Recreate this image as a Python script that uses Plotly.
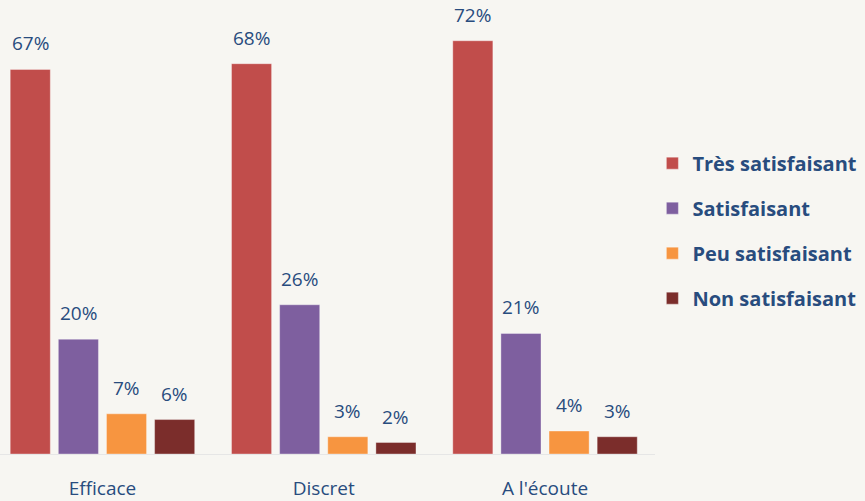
import plotly.graph_objects as go

categories = ["Efficace", "Discret", "A l'écoute"]
series_names = ["Très satisfaisant", "Satisfaisant", "Peu satisfaisant", "Non satisfaisant"]
tres_satisfaisant = [67, 68, 72]
satisfaisant = [20, 26, 21]
peu_satisfaisant = [7, 3, 4]
non_satisfaisant = [6, 2, 3]

series_values = [tres_satisfaisant, satisfaisant, peu_satisfaisant, non_satisfaisant]
colors = ["#C14D4B", "#7E5F9F", "#F79540", "#7B2D2B"]
text_color = "#284C7E"
bg = "#F7F6F2"
font_family = "Open Sans"

bargap = 0.13
bargroupgap = 0.167
n = len(series_names)
slot = (1 - bargap) / n

fig = go.Figure()
annotations = []
for j, (name, vals, col) in enumerate(zip(series_names, series_values, colors)):
    fig.add_trace(go.Bar(
        x=categories,
        y=vals,
        name=name,
        legendgroup=name,
        marker=dict(color=col, line=dict(color="rgba(255,255,255,0.35)", width=1)),
        hoverinfo="skip",
    ))
    # étiquettes de valeur au-dessus des barres
    for i, v in enumerate(vals):
        annotations.append(dict(
            x=i + (j - (n - 1) / 2) * slot,
            y=v,
            xref="x", yref="y",
            text=f"{v}%",
            showarrow=False,
            yanchor="bottom",
            yshift=11,
            font=dict(size=19, color=text_color, family=font_family, weight=500),
        ))

fig.update_layout(
    width=865,
    height=501,
    margin=dict(l=0, r=210, t=0, b=47),
    paper_bgcolor=bg,
    plot_bgcolor=bg,
    barmode="group",
    bargap=bargap,
    bargroupgap=bargroupgap,
    showlegend=True,
    legend=dict(
        x=0.996, xanchor="left",
        y=0.492, yanchor="middle",
        font=dict(size=20, color=text_color, family=font_family, weight="bold"),
        tracegroupgap=16,
        itemwidth=30,
        bgcolor="rgba(0,0,0,0)",
    ),
    annotations=annotations,
    font=dict(family=font_family, color=text_color),
)
fig.update_xaxes(
    range=[-0.463, 2.497],
    type="category",
    showline=True, linecolor="#E6E6E6", linewidth=1,
    ticks="outside", ticklen=17, tickcolor="rgba(0,0,0,0)",
    tickfont=dict(size=19, color=text_color, family=font_family, weight=500),
    showgrid=False, zeroline=False,
)
fig.update_yaxes(
    range=[0, 79.1],
    visible=False, showgrid=False, zeroline=False,
)

fig.write_html("out.html", config={"displayModeBar": False},
               post_script="document.body.style.margin='0';")
